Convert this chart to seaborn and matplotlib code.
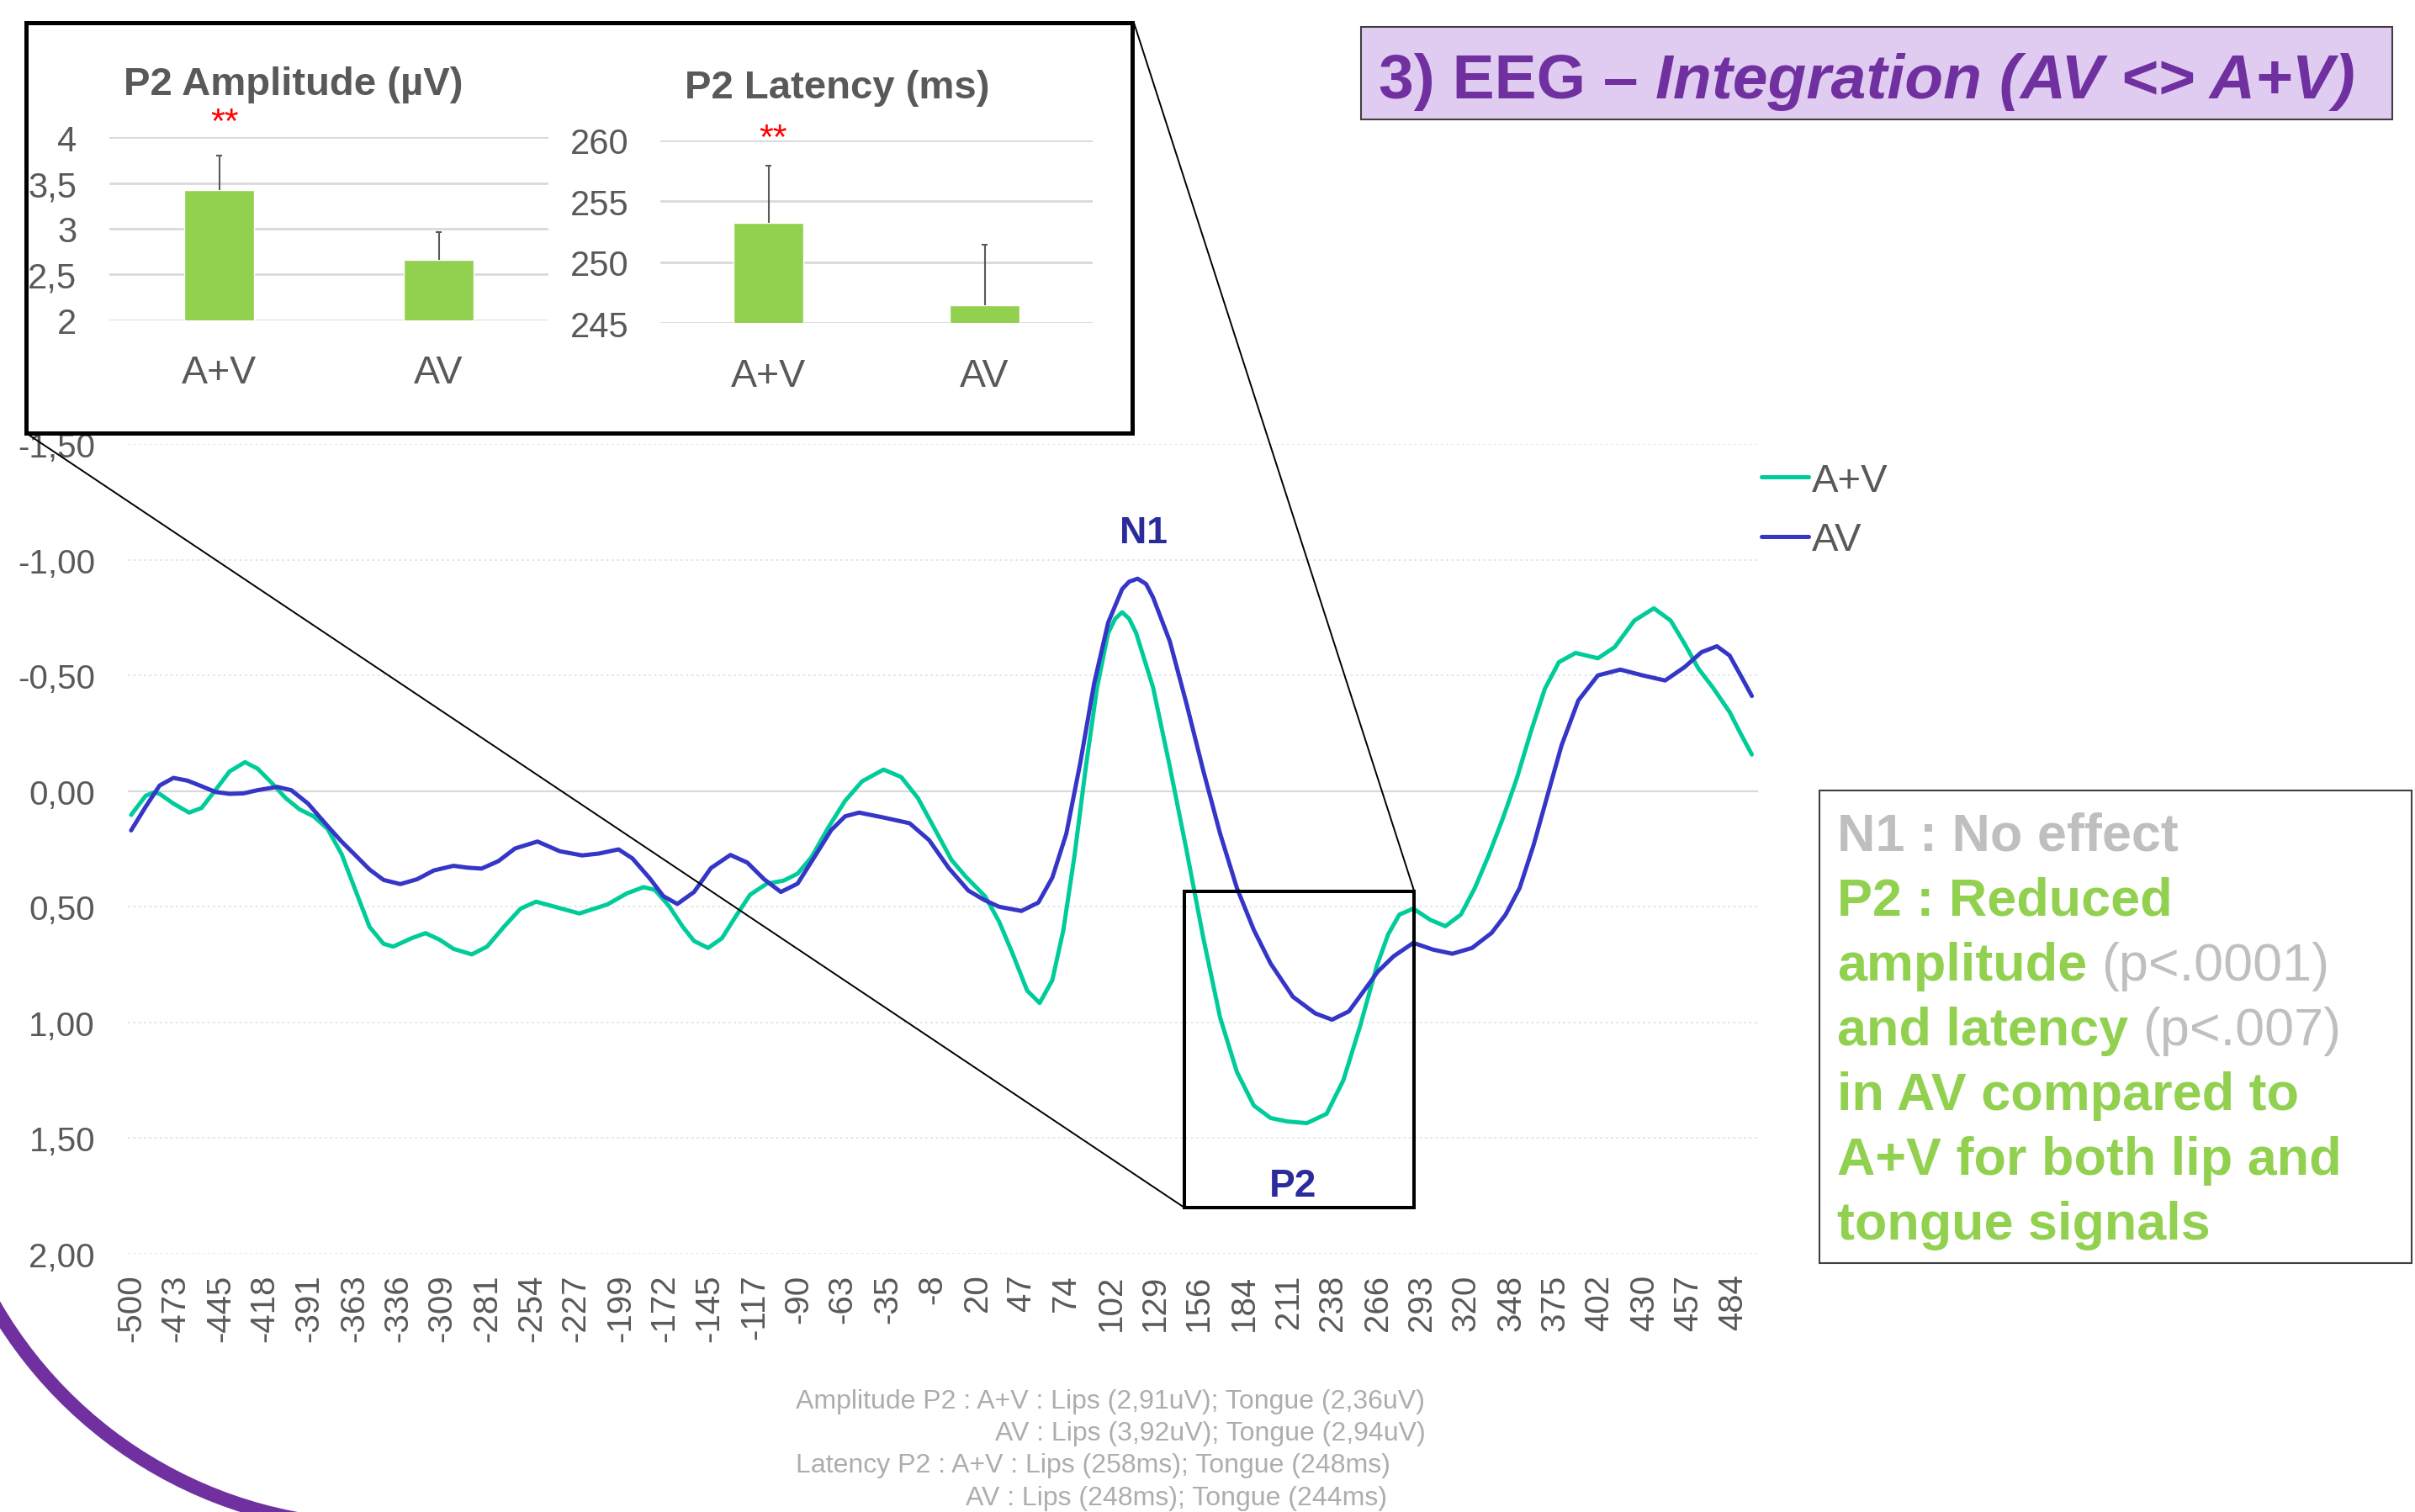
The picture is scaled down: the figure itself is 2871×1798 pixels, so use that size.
import matplotlib.pyplot as plt
import seaborn as sns
import pandas as pd
from matplotlib.lines import Line2D
from matplotlib.patches import Rectangle, Arc

W, H = 2871, 1799

# ERP waveforms (time in ms, amplitude in uV, positive drawn downwards)
apv_ms = [-500, -494.5, -491, -486, -482.5, -474, -464.4, -456.7, -448, -439.5, -430, -422.3,
          -413.7, -405.1, -396.5, -387.9, -379.3, -370.7, -362.1, -353.5, -344.9, -338.9,
          -327.7, -319.1, -310.5, -301.9, -290.7, -281.3, -271, -260.7, -251.2, -241.8,
          -224.6, -207.4, -195.4, -185.1, -178.2, -169.6, -161, -154.1, -145.5, -137,
          -128.3, -119.7, -109.4, -99.1, -90.5, -81.9, -71.6, -61.3, -50.9, -37.7, -26.9,
          -16.6, -6.3, 4, 12.7, 24.7, 33.3, 41.9, 50.5, 58.2, 66, 72.8, 79.7, 86.6, 93.5,
          100.3, 104.6, 108.9, 113.2, 117.5, 127.9, 138.2, 148.5, 158.8, 169.1, 179.4, 189.8,
          200.1, 210.4, 222.4, 234.5, 244.8, 255.1, 265.4, 272.3, 279.2, 287.8, 298.1, 307.5,
          317, 325.6, 334.2, 342.8, 351.4, 360, 368.6, 377.2, 387.5, 401.2, 411.5, 423.6,
          435.6, 445.9, 454.5, 463.1, 471.7, 482.1, 488.9, 495.8]
apv_uv = [0.103, 0.052, 0.02, 0.006, 0.012, 0.054, 0.093, 0.073, -0.006, -0.085, -0.125, -0.097,
          -0.036, 0.03, 0.079, 0.109, 0.163, 0.272, 0.43, 0.587, 0.66, 0.672,
          0.636, 0.614, 0.642, 0.682, 0.706, 0.672, 0.587, 0.508, 0.478, 0.496,
          0.529, 0.49, 0.442, 0.415, 0.427, 0.496, 0.587, 0.648, 0.678, 0.636,
          0.539, 0.448, 0.4, 0.387, 0.357, 0.285, 0.157, 0.042, -0.042, -0.093, -0.061,
          0.03, 0.163, 0.297, 0.369, 0.455, 0.564, 0.708, 0.862, 0.916, 0.817, 0.6, 0.275,
          -0.105, -0.448, -0.683, -0.745, -0.773, -0.745, -0.683, -0.448, -0.105, 0.257,
          0.636, 0.979, 1.214, 1.359, 1.413, 1.428, 1.435, 1.395, 1.25, 1.016, 0.755, 0.62,
          0.534, 0.508, 0.556, 0.584, 0.534, 0.419, 0.276, 0.118, -0.055, -0.256, -0.442,
          -0.557, -0.597, -0.574, -0.622, -0.737, -0.79, -0.737, -0.636, -0.528, -0.449,
          -0.342, -0.248, -0.158]

av_ms = [-500, -491, -482.5, -474, -465.3, -456.7, -448.1, -439.5, -430.9, -422.3, -410.2,
         -401.6, -391.3, -379.3, -370.7, -362.1, -353.5, -344.9, -334.6, -324.3, -314,
         -301.9, -293.3, -284.7, -274.4, -264.1, -250.3, -236.6, -222.9, -212.6, -200.5,
         -192, -181.6, -173, -164.4, -154.1, -143.8, -131.8, -121.4, -111.1, -100.8, -90.5,
         -80.2, -69.9, -61.3, -52.7, -37.2, -21.7, -9.7, 2.4, 14.4, 24, 33.3, 47, 57.4, 66,
         74.6, 83.2, 91.7, 100.3, 108.9, 113.2, 118.4, 123.6, 127.9, 138.2, 148.5, 158.8,
         169.1, 179.4, 189.8, 200.1, 213.8, 227.6, 237.9, 248.2, 258.5, 266, 275.7, 287.8,
         299.8, 311.8, 323.9, 335.9, 344.5, 353.1, 361.7, 370.3, 378.9, 389.2, 401.2, 415,
         428.7, 442.5, 454.5, 464.8, 474.3, 482.1, 488.9, 495.8]
av_uv = [0.17, 0.067, -0.024, -0.057, -0.045, -0.021, 0.004, 0.012, 0.01, -0.004, -0.018,
         -0.004, 0.054, 0.151, 0.218, 0.278, 0.339, 0.384, 0.402, 0.381, 0.343,
         0.323, 0.331, 0.335, 0.303, 0.248, 0.218, 0.26, 0.278, 0.27, 0.252,
         0.291, 0.375, 0.454, 0.488, 0.436, 0.333, 0.276, 0.309, 0.381, 0.436, 0.4,
         0.285, 0.169, 0.109, 0.093, 0.115, 0.139, 0.212, 0.333, 0.43, 0.47, 0.5, 0.518,
         0.482, 0.374, 0.184, -0.123, -0.466, -0.728, -0.873, -0.905, -0.918, -0.895, -0.837,
         -0.647, -0.376, -0.087, 0.184, 0.419, 0.6, 0.745, 0.889, 0.961, 0.988, 0.952, 0.853,
         0.78, 0.714, 0.656, 0.685, 0.703, 0.678, 0.613, 0.534, 0.419, 0.233, 0.017, -0.198,
         -0.392, -0.5, -0.525, -0.5, -0.478, -0.536, -0.6, -0.626, -0.586, -0.5, -0.411]

xtick_labels = ["-500", "-473", "-445", "-418", "-391", "-363", "-336", "-309", "-281", "-254",
                "-227", "-199", "-172", "-145", "-117", "-90", "-63", "-35", "-8", "20", "47",
                "74", "102", "129", "156", "184", "211", "238", "266", "293", "320", "348",
                "375", "402", "430", "457", "484"]
ytick_vals = [-1.5, -1.0, -0.5, 0.0, 0.5, 1.0, 1.5, 2.0]

# inset bar charts
bar_cats = ["A+V", "AV"]
amp_mean = [3.42, 2.66]
amp_err = [0.38, 0.30]
lat_mean = [253.2, 246.45]
lat_err = [4.7, 4.95]

green = "#00CC99"
blue = "#3535C8"
bar_green = "#92D050"
grey = "#595959"
light = "#BFBFBF"
purple = "#7030A0"
navy = "#2B2B9B"

sns.set_style("white")
plt.rcParams["font.family"] = ["Liberation Sans", "DejaVu Sans"]

fig = plt.figure(figsize=(W / 100, H / 100), dpi=100)


def px_axes(x0, y0, x1, y1, **kw):
    return fig.add_axes([x0 / W, 1 - y1 / H, (x1 - x0) / W, (y1 - y0) / H], **kw)


# ---- main ERP plot ----
ax = px_axes(152, 529, 2090, 1492, zorder=1)
df = pd.concat([
    pd.DataFrame({"ms": apv_ms, "uv": apv_uv, "cond": "A+V"}),
    pd.DataFrame({"ms": av_ms, "uv": av_uv, "cond": "AV"}),
])
sns.lineplot(data=df, x="ms", y="uv", hue="cond", palette={"A+V": green, "AV": blue},
             estimator=None, legend=False, linewidth=3.6, solid_joinstyle="round",
             solid_capstyle="round", ax=ax)
ax.set_xlim(-502, 499.6)
ax.set_ylim(2.0, -1.5)
for v in ytick_vals:
    if v == 0:
        ax.axhline(v, color="#D9D9D9", lw=1.6, zorder=0)
    else:
        ax.axhline(v, color="#E4E4E4", lw=1.3, ls=(0, (1.5, 2)), zorder=0)
ax.set_yticks(ytick_vals)
ax.set_yticklabels([f"{v:.2f}".replace(".", ",") for v in ytick_vals])
ax.set_xticks([int(s) for s in xtick_labels])
ax.set_xticklabels(xtick_labels, rotation=90)
ax.tick_params(axis="both", length=0, labelsize=29, labelcolor=grey)
ax.tick_params(axis="x", pad=17)
ax.tick_params(axis="y", pad=28)
ax.set_xlabel("")
ax.set_ylabel("")
sns.despine(ax=ax, left=True, bottom=True)

handles = [Line2D([0], [0], color=green, lw=3.6, solid_capstyle="round"),
           Line2D([0], [0], color=blue, lw=3.6, solid_capstyle="round")]
ax.legend(handles, bar_cats, loc="upper left", bbox_to_anchor=(2094 / W, 1 - 551 / H),
          bbox_transform=fig.transFigure, frameon=False, fontsize=34, labelcolor=grey,
          handlelength=1.19, handletextpad=0.08, labelspacing=0.56, borderpad=0,
          borderaxespad=0)

# ---- overlay in pixel coordinates for slide shapes ----
ov = fig.add_axes([0, 0, 1, 1], zorder=2)
ov.set_xlim(0, W)
ov.set_ylim(H, 0)
ov.axis("off")
ov.set_facecolor("none")
r = fig.canvas.get_renderer()

ov.add_patch(Rectangle((31, 28), 1315, 488, fc="white", ec="black", lw=3.6))
ov.add_patch(Rectangle((1408, 1061), 273, 376, fc="none", ec="black", lw=2.9))
ov.plot([31, 1408], [516, 1437], color="black", lw=1.4)
ov.plot([1348, 1681], [28, 1060], color="black", lw=1.4)
ov.add_patch(Arc((448, 1291), 1050, 1050, theta1=95, theta2=160, color=purple, lw=12))

ov.text(1359, 646, "N1", ha="center", va="baseline", fontsize=32, fontweight="bold", color=navy)
ov.text(1537, 1423, "P2", ha="center", va="baseline", fontsize=33, fontweight="bold", color=navy)


def pieces(x, y, parts, size):
    gap = 0.278 * size * 100 / 72
    for txt, color, weight, style in parts:
        t = ov.text(x, y, txt, ha="left", va="baseline", fontsize=size, color=color,
                    fontweight=weight, fontstyle=style)
        x += t.get_window_extent(renderer=r).width + gap


# title box
ov.add_patch(Rectangle((1618, 33), 1226, 110, fc="#DFCCF0", ec="#404040", lw=1.5))
pieces(1639, 117, [("3) EEG \u2013", purple, "bold", "normal"),
                   ("Integration (AV <> A+V)", purple, "bold", "italic")], 54)

# findings box
ov.add_patch(Rectangle((2163, 941), 704, 562, fc="white", ec="#404040", lw=1.5))
gb = (bar_green, "bold", "normal")
box_lines = [
    [("N1 : No effect", light, "bold", "normal")],
    [("P2 : Reduced",) + gb],
    [("amplitude",) + gb, ("(p<.0001)", light, "normal", "normal")],
    [("and latency",) + gb, ("(p<.007)", light, "normal", "normal")],
    [("in AV compared to",) + gb],
    [("A+V for both lip and",) + gb],
    [("tongue signals",) + gb],
]
for k, parts in enumerate(box_lines):
    pieces(2184, 1012 + 77 * k, parts, 45.3)

# footnote
foot = "#ADADAD"
ov.text(946, 1667, "Amplitude P2 : A+V : Lips (2,91uV); Tongue (2,36uV)", ha="left",
        va="center", fontsize=23, color=foot)
ov.text(1695, 1705, "AV : Lips (3,92uV); Tongue (2,94uV)", ha="right", va="center",
        fontsize=23, color=foot)
ov.text(946, 1743, "Latency P2 : A+V : Lips (258ms); Tongue (248ms)", ha="left",
        va="center", fontsize=23, color=foot)
ov.text(1649, 1782, "AV : Lips (248ms); Tongue (244ms)", ha="right", va="center",
        fontsize=23, color=foot)

# ---- inset bar charts ----
ov.text(349, 113, "P2 Amplitude (\u00b5V)", ha="center", va="baseline", fontsize=34,
        fontweight="bold", color=grey)
ov.text(995, 117, "P2 Latency (ms)", ha="center", va="baseline", fontsize=34,
        fontweight="bold", color=grey)
ov.text(267, 158, "**", ha="center", va="baseline", fontsize=31, color="red")
ov.text(919, 177, "**", ha="center", va="baseline", fontsize=31, color="red")


def inset(rect, means, errs, lims, ticks, ticklabels, ypad):
    a = px_axes(*rect, zorder=3)
    a.set_facecolor("none")
    for t in ticks:
        a.axhline(t, color="#D9D9D9", lw=2, zorder=0)
    sns.barplot(x=bar_cats, y=means, color=bar_green, saturation=1, width=0.32,
                errorbar=None, ax=a, zorder=2)
    tops = [m + e for m, e in zip(means, errs)]
    a.vlines(range(len(means)), means, tops, color=grey, lw=1.5, zorder=3)
    a.hlines(tops, [i - 0.012 for i in range(len(means))],
             [i + 0.012 for i in range(len(means))], color=grey, lw=1.5, zorder=3)
    a.set_xlim(-0.5, len(means) - 0.5)
    a.set_ylim(*lims)
    a.set_yticks(ticks)
    a.set_yticklabels(ticklabels)
    a.tick_params(axis="both", length=0, labelcolor=grey)
    a.tick_params(axis="y", labelsize=30, pad=ypad)
    a.tick_params(axis="x", labelsize=33.5, pad=29)
    sns.despine(ax=a, left=True, bottom=True)
    return a


inset((130, 164.3, 652, 381.7), amp_mean, amp_err, (2, 4), [2, 2.5, 3, 3.5, 4],
      ["2", "2,5", "3", "3,5", "4"], 28)
inset((785, 167.7, 1299, 385.3), lat_mean, lat_err, (245, 260), [245, 250, 255, 260],
      ["245", "250", "255", "260"], 27)

fig.savefig("out.png", dpi=100)
